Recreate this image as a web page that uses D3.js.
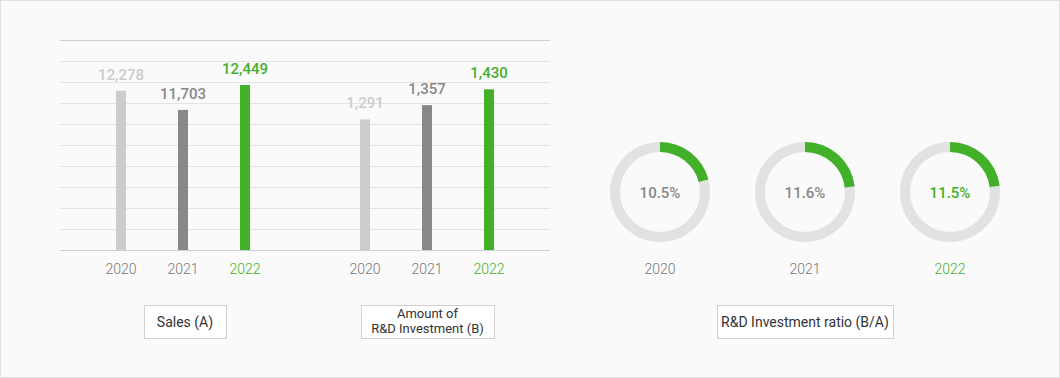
<!DOCTYPE html>
<html><head><meta charset="utf-8">
<script src="https://cdn.jsdelivr.net/npm/d3@7"></script>
<style>
html,body{margin:0;padding:0;background:#fff;}
svg{display:block;font-family:Roboto, "Noto Sans", sans-serif;}
</style></head>
<body>
<svg id="chart" width="1060" height="378"></svg>
<script>
const years = ["2020", "2021", "2022"];
const sales = [12278, 11703, 12449];
const rnd = [1291, 1357, 1430];
const ratio = [10.5, 11.6, 11.5];
const legendSales = ["Sales (A)"];
const legendRnd = ["Amount of", "R&D Investment (B)"];
const legendRatio = ["R&D Investment ratio (B/A)"];

const GREEN = "#43b02a";
const barColors = ["#cccccc", "#888888", GREEN];
const labelColors = ["#777777", "#777777", GREEN];
const valueColors = ["#cccccc", "#888888", GREEN];

const svg = d3.select("#chart");
svg.append("rect").attr("x", 0.5).attr("y", 0.5).attr("width", 1059).attr("height", 377)
  .attr("fill", "#fafafa").attr("stroke", "#e0e0e0");

// grid
const yTop = 40, yBase = 250;
const gridScale = d3.scaleLinear().domain([0, 10]).range([yBase, yTop]);
const grid = svg.append("g");
d3.range(0, 11).forEach(i => {
  grid.append("line").attr("x1", 60).attr("x2", 550)
    .attr("y1", Math.round(gridScale(i)) + 0.5).attr("y2", Math.round(gridScale(i)) + 0.5)
    .attr("stroke", (i === 0 || i === 10) ? "#cfcfcf" : "#e3e3e3").attr("stroke-width", 1);
});

function barGroup(values, xRange, domain, fmt) {
  const x = d3.scalePoint().domain(years).range(xRange);
  const y = d3.scaleLinear().domain(domain).range([yBase, yTop]);
  const g = svg.append("g");
  g.selectAll("rect").data(values).join("rect")
    .attr("x", (d, i) => x(years[i]) - 5).attr("width", 10)
    .attr("y", d => y(d)).attr("height", d => yBase - y(d))
    .attr("fill", (d, i) => barColors[i]);
  g.selectAll("text.val").data(values).join("text").attr("class", "val")
    .attr("x", (d, i) => x(years[i])).attr("y", d => y(d) - 11)
    .attr("text-anchor", "middle").attr("font-size", 15).attr("font-weight", 500)
    .attr("fill", (d, i) => valueColors[i]).text(d => fmt(d));
  g.selectAll("text.yr").data(years).join("text").attr("class", "yr")
    .attr("x", d => x(d)).attr("y", 274)
    .attr("text-anchor", "middle").attr("font-size", 14).attr("font-weight", 300)
    .attr("fill", (d, i) => labelColors[i]).text(d => d);
}
const fmt = d3.format(",");
barGroup(sales, [121, 245], [7500, 13800], fmt);
barGroup(rnd, [365, 489], [690, 1657], fmt);

// donuts
const arcScale = d3.scaleLinear().domain([0, 50]).range([0, 2 * Math.PI]);
const arc = d3.arc().innerRadius(40).outerRadius(50);
const dx = d3.scalePoint().domain(years).range([660, 950]);
const dg = svg.append("g");
ratio.forEach((v, i) => {
  const g = dg.append("g").attr("transform", `translate(${dx(years[i])},192)`);
  g.append("path").attr("d", arc({startAngle: 0, endAngle: 2 * Math.PI})).attr("fill", "#e2e2e2");
  g.append("path").attr("d", arc({startAngle: 0, endAngle: arcScale(v)})).attr("fill", GREEN);
  g.append("text").attr("y", 6).attr("text-anchor", "middle").attr("font-size", 15).attr("font-weight", 500)
    .attr("fill", i === 2 ? GREEN : "#888888").text(v.toFixed(1) + "%");
  dg.append("text").attr("x", dx(years[i])).attr("y", 274).attr("text-anchor", "middle")
    .attr("font-size", 14).attr("font-weight", 300).attr("fill", labelColors[i]).text(years[i]);
});

// legend boxes
function legendBox(x, w, lines) {
  const g = svg.append("g");
  g.append("rect").attr("x", x + 0.5).attr("y", 305.5).attr("width", w).attr("height", 33)
    .attr("fill", "#ffffff").attr("stroke", "#d0d0d0");
  const cx = x + w / 2;
  const fs = lines.length === 1 ? 14 : 13;
  const startY = lines.length === 1 ? 327 : 318;
  lines.forEach((t, i) => {
    g.append("text").attr("x", cx).attr("y", startY + i * 15).attr("text-anchor", "middle")
      .attr("font-size", fs).attr("font-weight", 400).attr("fill", "#333333").text(t);
  });
}
legendBox(144, 82, legendSales);
legendBox(361, 133, legendRnd);
legendBox(717, 176, legendRatio);
</script>
</body></html>
